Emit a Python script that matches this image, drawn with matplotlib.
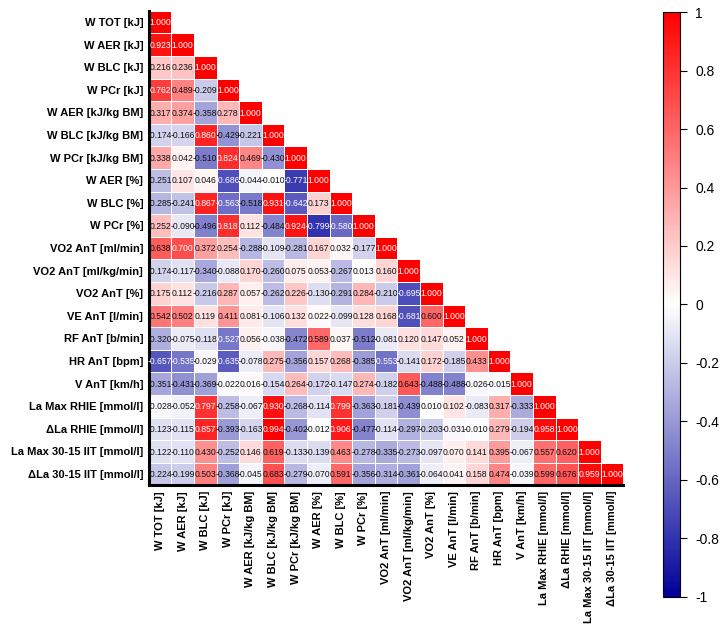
import numpy as np
import matplotlib
matplotlib.use("Agg")
import matplotlib.pyplot as plt
from matplotlib.colors import LinearSegmentedColormap

plt.rcParams['font.family'] = ['Liberation Sans', 'DejaVu Sans']

labels = ["W TOT [kJ]", "W AER [kJ]", "W BLC [kJ]", "W PCr [kJ]",
          "W AER [kJ/kg BM]", "W BLC [kJ/kg BM]", "W PCr [kJ/kg BM]",
          "W AER [%]", "W BLC [%]", "W PCr [%]",
          "VO2 AnT [ml/min]", "VO2 AnT [ml/kg/min]", "VO2 AnT [%]",
          "VE AnT [l/min]", "RF AnT [b/min]", "HR AnT [bpm]", "V AnT [km/h]",
          "La Max RHIE [mmol/l]", "\u0394La RHIE [mmol/l]",
          "La Max 30-15 IIT [mmol/l]", "\u0394La 30-15 IIT [mmol/l]"]

corr_lower = [
    [1.000],
    [0.923, 1.000],
    [0.216, 0.236, 1.000],
    [0.762, 0.489, -0.209, 1.000],
    [0.317, 0.374, -0.358, 0.278, 1.000],
    [-0.174, -0.166, 0.860, -0.429, -0.221, 1.000],
    [0.338, 0.042, -0.510, 0.824, 0.469, -0.430, 1.000],
    [-0.251, 0.107, 0.046, -0.686, -0.044, -0.010, -0.771, 1.000],
    [-0.285, -0.241, 0.867, -0.563, -0.518, 0.931, -0.642, 0.173, 1.000],
    [0.252, -0.090, -0.496, 0.818, 0.112, -0.484, 0.924, -0.799, -0.580, 1.000],
    [0.638, 0.700, 0.372, 0.254, -0.288, -0.109, -0.281, 0.167, 0.032, -0.177, 1.000],
    [-0.174, -0.117, -0.340, -0.088, 0.170, -0.260, 0.075, 0.053, -0.267, 0.013, 0.160, 1.000],
    [0.175, 0.112, -0.216, 0.287, 0.057, -0.262, 0.226, -0.130, -0.291, 0.284, -0.210, -0.695, 1.000],
    [0.542, 0.502, 0.119, 0.411, 0.081, -0.106, 0.132, 0.022, -0.099, 0.128, 0.168, -0.681, 0.600, 1.000],
    [-0.320, -0.075, -0.118, -0.527, 0.056, -0.038, -0.472, 0.589, 0.037, -0.512, -0.081, 0.120, 0.147, 0.052, 1.000],
    [-0.657, -0.535, -0.029, -0.635, -0.078, 0.275, -0.356, 0.157, 0.268, -0.385, -0.553, -0.141, 0.172, -0.185, 0.433, 1.000],
    [-0.351, -0.431, -0.369, -0.022, 0.016, -0.154, 0.264, -0.172, -0.147, 0.274, -0.182, 0.643, -0.488, -0.488, -0.026, -0.015, 1.000],
    [-0.028, -0.052, 0.797, -0.258, -0.067, 0.930, -0.268, -0.114, 0.799, -0.363, -0.181, -0.439, 0.010, 0.102, -0.083, 0.317, -0.333, 1.000],
    [-0.123, -0.115, 0.857, -0.393, -0.163, 0.994, -0.402, -0.012, 0.906, -0.477, -0.114, -0.297, -0.203, -0.031, -0.010, 0.279, -0.194, 0.958, 1.000],
    [-0.122, -0.110, 0.430, -0.252, 0.146, 0.619, -0.133, -0.139, 0.463, -0.278, -0.335, -0.273, -0.097, 0.070, 0.141, 0.395, -0.067, 0.557, 0.620, 1.000],
    [-0.224, -0.199, 0.503, -0.368, -0.045, 0.683, -0.279, -0.070, 0.591, -0.356, -0.314, -0.361, -0.064, 0.041, 0.158, 0.474, -0.039, 0.599, 0.676, 0.959, 1.000],
]

cbar_ticks = [1, 0.8, 0.6, 0.4, 0.2, 0, -0.2, -0.4, -0.6, -0.8, -1]

n = len(labels)
M = np.full((n, n), np.nan)
for i, row in enumerate(corr_lower):
    M[i, :len(row)] = row
Mm = np.ma.masked_invalid(M)

cmap = LinearSegmentedColormap.from_list("bwr_c", ["#00009a", "#ffffff", "#ff0000"])

fig = plt.figure(figsize=(7.23, 6.32), dpi=100)
ax = fig.add_axes([0.2057, 0.232, 0.6564, 0.751])
mesh = ax.pcolormesh(np.arange(n + 1), np.arange(n + 1), Mm, cmap=cmap,
                     vmin=-1, vmax=1, edgecolors='white', linewidth=0.6)
ax.set_xlim(0, n)
ax.set_ylim(n, 0)

for i in range(n):
    for j in range(i + 1):
        v = M[i, j]
        col = 'white' if (v >= 0.69 or v <= -0.52) else '#111111'
        ax.text(j + 0.5, i + 0.53, f"{v:.3f}", ha='center', va='center',
                fontsize=6.2, color=col)

ax.set_xticks(np.arange(n) + 0.5)
ax.set_yticks(np.arange(n) + 0.5)
ax.set_xticklabels(labels, rotation=90, fontsize=8, fontweight='bold')
ax.set_yticklabels(labels, fontsize=8, fontweight='bold')
ax.tick_params(length=0, pad=4)
for s in ['top', 'right']:
    ax.spines[s].set_visible(False)
for s in ['left', 'bottom']:
    ax.spines[s].set_linewidth(2.2)
    ax.spines[s].set_color('black')

cax = fig.add_axes([0.917, 0.0554, 0.0235, 0.9256])
cb = fig.colorbar(mesh, cax=cax, ticks=cbar_ticks)
cb.ax.set_yticklabels([f"{t:g}" for t in cbar_ticks])
cb.ax.tick_params(labelsize=10, length=5, width=0.8, pad=6)
cb.outline.set_linewidth(0.8)

fig.savefig("out.png", dpi=100)
